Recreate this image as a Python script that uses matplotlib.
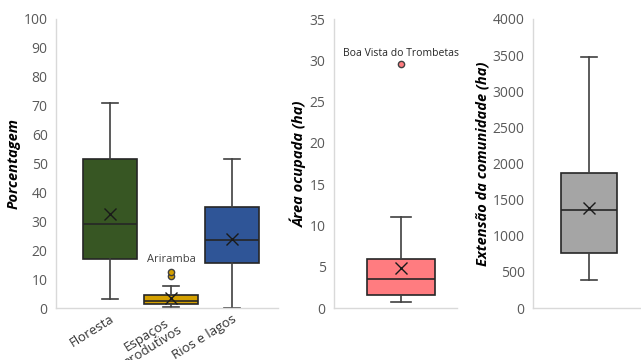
import numpy as np
import matplotlib
matplotlib.use("Agg")
import matplotlib.pyplot as plt

plt.rcParams["font.family"] = ["Open Sans", "DejaVu Sans"]

# painel 1 - uso do solo (%)
cat_uso = ["Floresta", "Espaços\nprodutivos", "Rios e lagos"]
uso_whislo = [3, 0.5, 0]
uso_q1 = [17, 1.5, 15.5]
uso_med = [29, 2.5, 23.5]
uso_q3 = [51.5, 4.5, 35]
uso_whishi = [71, 7.5, 51.5]
uso_mean = [32.5, 3.5, 24]
uso_fliers = [[], [11, 12.5], []]
uso_cores = ["#375623", "#D4A000", "#2F5597"]

# painel 2 - area ocupada (ha)
area_stats = [1.6, 0.7, 3.5, 5.9, 11, 4.8]  # q1, whislo, med, q3, whishi, mean
area_flier = [29.5]

# painel 3 - extensao da comunidade (ha)
ext_stats = [760, 390, 1360, 1870, 3470, 1390]

W, H = 641, 360
fig = plt.figure(figsize=(W / 100, H / 100), dpi=100)

y0, y1 = 308, 19


def make_ax(xl, xr):
    ax = fig.add_axes([xl / W, (H - y0) / H, (xr - xl) / W, (y0 - y1) / H])
    for s in ["top", "right"]:
        ax.spines[s].set_visible(False)
    for s in ["left", "bottom"]:
        ax.spines[s].set_color("#d9d9d9")
        ax.spines[s].set_linewidth(1.0)
    ax.tick_params(axis="y", length=0, labelcolor="#595959", labelsize=10, pad=6)
    ax.tick_params(axis="x", length=0)
    return ax


def draw(ax, stats, cores, pos, width):
    bp = ax.bxp(stats, positions=pos, widths=width, patch_artist=True,
                showmeans=True, capwidths=width * 0.3,
                boxprops=dict(edgecolor="#262626", linewidth=1.2),
                medianprops=dict(color="#262626", linewidth=1.2),
                whiskerprops=dict(color="#404040", linewidth=1.2),
                capprops=dict(color="#404040", linewidth=1.2),
                meanprops=dict(marker="x", markeredgecolor="#1a1a1a",
                               markersize=8, markeredgewidth=1.0),
                flierprops=dict(marker="o", markersize=4.5,
                                markeredgecolor="#404040", markeredgewidth=1.0))
    for patch, c in zip(bp["boxes"], cores):
        patch.set_facecolor(c)
    for fl, c in zip(bp["fliers"], cores):
        fl.set_markerfacecolor(c)
    return bp


# --- painel 1
ax1 = make_ax(56, 278)
stats1 = []
for i in range(3):
    stats1.append(dict(whislo=uso_whislo[i], q1=uso_q1[i], med=uso_med[i],
                       q3=uso_q3[i], whishi=uso_whishi[i], mean=uso_mean[i],
                       fliers=uso_fliers[i]))
draw(ax1, stats1, uso_cores, [1, 2, 3], 0.9)
ax1.set_xlim(1 - 54 / 61, 3 + 46 / 61)
ax1.set_ylim(0, 100)
ax1.set_yticks(range(0, 101, 10))
ax1.set_xticks([1, 2, 3])
ax1.set_xticklabels(cat_uso, rotation=32, ha="right", rotation_mode="anchor",
                    fontsize=9.5, color="#333333", multialignment="center",
                    linespacing=0.95)
ax1.tick_params(axis="x", pad=3)
ax1.set_ylabel("Porcentagem", fontsize=10.5, fontweight="bold",
               style="italic", labelpad=2)
ax1.text(2, max(uso_fliers[1]) + 2.5, "Ariramba", ha="center", va="bottom",
         fontsize=8, color="#404040")

# --- painel 2
ax2 = make_ax(334, 457)
s2 = dict(q1=area_stats[0], whislo=area_stats[1], med=area_stats[2],
          q3=area_stats[3], whishi=area_stats[4], mean=area_stats[5],
          fliers=area_flier)
draw(ax2, [s2], ["#FF7C80"], [1], 1.0)
ax2.set_xlim(1 - 67 / 69, 1 + 56 / 69)
ax2.set_ylim(0, 35)
ax2.set_yticks(range(0, 36, 5))
ax2.set_xticks([])
ax2.set_ylabel("Área ocupada (ha)", fontsize=10.5, fontweight="bold",
               style="italic", labelpad=2)
ax2.text(1, area_flier[0] + 0.6, "Boa Vista do Trombetas", ha="center",
         va="bottom", fontsize=7.5, color="#262626")

# --- painel 3
ax3 = make_ax(533, 641)
s3 = dict(q1=ext_stats[0], whislo=ext_stats[1], med=ext_stats[2],
          q3=ext_stats[3], whishi=ext_stats[4], mean=ext_stats[5], fliers=[])
draw(ax3, [s3], ["#A5A5A5"], [1], 1.0)
ax3.set_xlim(1 - 56 / 56, 1 + 52 / 56)
ax3.set_ylim(0, 4000)
ax3.set_yticks(range(0, 4001, 500))
ax3.set_xticks([])
ax3.set_ylabel("Extensão da comunidade (ha)", fontsize=10.5,
               fontweight="bold", style="italic", labelpad=2)

fig.savefig("out.png", dpi=100)
